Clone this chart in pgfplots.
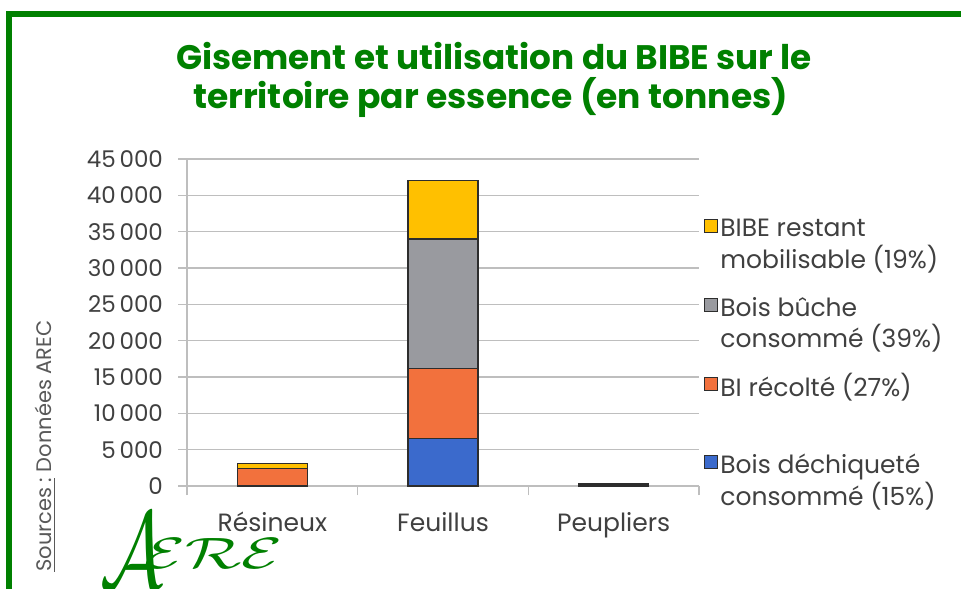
\documentclass[border=0pt]{standalone}
\usepackage{pgfplots}
\pgfplotsset{compat=1.18}
\usepackage{fontspec}
\usepackage{graphicx}
\setmainfont{Poppins}
\definecolor{cGreen}{RGB}{0,128,0}
\definecolor{cBlue}{RGB}{59,106,204}
\definecolor{cOrange}{RGB}{242,113,61}
\definecolor{cGray}{RGB}{153,154,159}
\definecolor{cYellow}{RGB}{255,192,0}
\definecolor{cGrid}{RGB}{190,190,190}
\definecolor{cText}{RGB}{64,64,64}
\definecolor{cEdge}{RGB}{45,45,45}
\begin{document}
\begin{tikzpicture}
\useasboundingbox (0,0) rectangle (480.5pt,294pt);
\fill[white] (0,0) rectangle (480.5pt,294pt);
\draw[line width=3pt, cGreen] (4.5pt,-2pt) -- (4.5pt,287pt) -- (483pt,287pt);
\node[cGreen, anchor=base, inner sep=0pt] at (247pt,259.35pt)
  {\resizebox{318pt}{\height}{\fontsize{17}{20}\selectfont\bfseries Gisement et utilisation du BIBE sur le}};
\node[cGreen, anchor=base, inner sep=0pt] at (245.25pt,239.85pt)
  {\resizebox{297.5pt}{\height}{\fontsize{17}{20}\selectfont\bfseries territoire par essence (en tonnes)}};
\node[rotate=90, text={rgb,255:red,89;green,89;blue,89}, font=\fontsize{10.5}{12}\selectfont, inner sep=0pt] at (22.5pt,71pt)
  {\underline{Sources :} Données AREC};
\node[cGreen, inner sep=0pt] at (65.75pt,18.75pt) {\resizebox{31.5pt}{37.5pt}{$\mathcal{A}$}};
\node[cGreen, inner sep=0pt] at (107pt,17.5pt) {\resizebox{69pt}{15pt}{$\mathcal{ERE}$}};
\begin{axis}[
  at={(93.5pt,51pt)}, anchor=south west, scale only axis,
  width=256pt, height=163.5pt,
  ybar stacked, bar width=35pt,
  xmin=-0.5, xmax=2.5, ymin=0, ymax=45000,
  enlargelimits=false,
  xtick={0,1,2}, xticklabels={Résineux,Feuillus,Peupliers},
  minor xtick={-0.5,0.5,1.5,2.5},
  ytick={0,5000,...,45000},
  scaled y ticks=false,
  /pgf/number format/1000 sep={\,},
  /pgf/number format/assume math mode=true,
  axis x line*=bottom, axis y line*=left,
  ymajorgrids, major grid style={cGrid, line width=0.75pt},
  axis line style={cGrid, line width=0.75pt},
  tick align=outside, major tick length=4.5pt, minor tick length=4.5pt,
  tick style={cGrid, line width=0.75pt},
  major x tick style={draw=none},
  yticklabel style={font=\fontsize{11.5}{13}\selectfont, text=cText, xshift=-4pt},
  xticklabel style={font=\fontsize{12.5}{14}\selectfont, text=cText, yshift=-5pt},
  every axis plot/.append style={draw=cEdge, line width=0.6pt},
  reverse legend,
  legend cell align=left,
  legend image code/.code={\draw[#1, draw=cEdge, line width=0.5pt] (0pt,5.25pt) rectangle (6.5pt,11.75pt);},
  legend style={at={(axis description cs:1.0,0.845)}, anchor=north west, xshift=-0.5pt,
    draw=none, fill=none, font=\fontsize{12.5}{16}\selectfont, text=cText,
    cells={align=left}, nodes={inner sep=0pt}, column sep=1pt, row sep=11.1pt},
]
\addplot[fill=cBlue] coordinates {(0,0) (1,6500) (2,150)};
\addplot[fill=cOrange] coordinates {(0,2400) (1,9700) (2,200)};
\addplot[fill=cGray] coordinates {(0,0) (1,17800) (2,0)};
\addplot[fill=cYellow] coordinates {(0,700) (1,8000) (2,0)};
\legend{\strut Bois déchiqueté\\[-1.5pt]\strut consommé (15\%),
        \strut BI récolté (27\%)\\[-1.5pt]\strut,
        \strut Bois bûche\\[-1.5pt]\strut consommé (39\%),
        \strut BIBE restant\\[-1.5pt]\strut mobilisable (19\%)}
\end{axis}
\end{tikzpicture}
\end{document}
